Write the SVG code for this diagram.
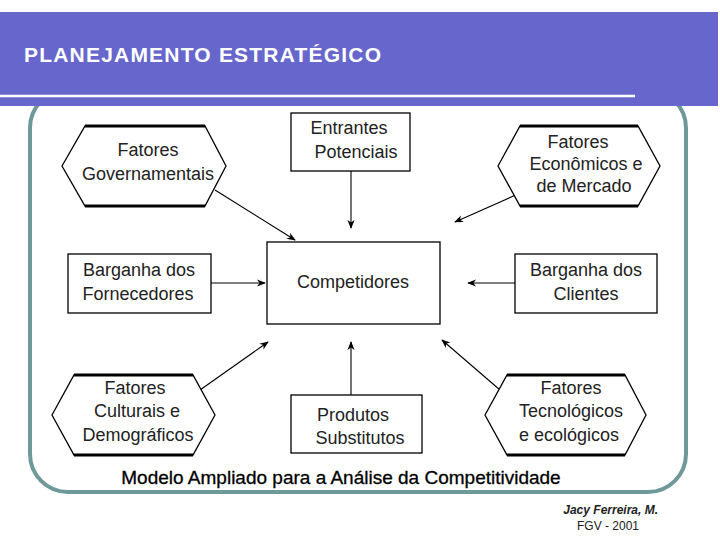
<svg xmlns="http://www.w3.org/2000/svg" width="720" height="540" viewBox="0 0 720 540">
<defs>
<marker id="ah" viewBox="0 0 10 10" refX="9" refY="5" markerWidth="9" markerHeight="9" orient="auto" markerUnits="userSpaceOnUse"><path d="M0,1 L10,5 L0,9 L3,5 z" fill="#000"/></marker>
</defs>
<style>
.t{font-family:"Liberation Sans",Arial,sans-serif;font-size:18px;fill:#222;text-anchor:middle}
.n{fill:#fff;stroke:#000;stroke-width:1.3}
.c line{stroke:#000;stroke-width:1.1;marker-end:url(#ah)}
</style>
<rect width="720" height="540" fill="#fff"/>
<rect x="30" y="90" width="656" height="402" rx="38" fill="none" stroke="#6f9898" stroke-width="4"/>
<rect x="0" y="12" width="718" height="94" fill="#6666cc"/>
<line x1="0" y1="96" x2="635" y2="96" stroke="#fff" stroke-width="2.5"/>
<text x="24" y="62" font-family="Liberation Sans,Arial,sans-serif" font-size="21" font-weight="bold" letter-spacing="1.2" fill="#fff">PLANEJAMENTO ESTRATÉGICO</text>
<g class="c">
<line x1="215" y1="190" x2="295" y2="240"/>
<line x1="351" y1="171" x2="351" y2="228"/>
<line x1="527" y1="190" x2="455" y2="222"/>
<line x1="211" y1="283" x2="265" y2="283"/>
<line x1="515" y1="283" x2="468" y2="283"/>
<line x1="200" y1="390" x2="268" y2="342"/>
<line x1="351" y1="395" x2="351" y2="342"/>
<line x1="500" y1="390" x2="442" y2="340"/>
</g>
<g id="gov"><polygon class="n" points="62,166 85,126 205,126 226,166 205,206 85,206"/><line x1="85" y1="126" x2="205" y2="126" stroke="#000" stroke-width="3"/><line x1="85" y1="206" x2="205" y2="206" stroke="#000" stroke-width="3"/><text class="t" x="148" y="156">Fatores</text><text class="t" x="148" y="180">Governamentais</text></g>
<g id="entrantes"><rect class="n" x="291" y="113" width="119" height="58"/><text class="t" x="349" y="134">Entrantes</text><text class="t" x="356" y="158">Potenciais</text></g>
<g id="econ"><polygon class="n" points="498,166 520,126 638,126 660,166 638,206 520,206"/><line x1="520" y1="126" x2="638" y2="126" stroke="#000" stroke-width="3"/><line x1="520" y1="206" x2="638" y2="206" stroke="#000" stroke-width="3"/><text class="t" x="578" y="148">Fatores</text><text class="t" x="586" y="170">Econômicos e</text><text class="t" x="584" y="192">de Mercado</text></g>
<g id="fornec"><rect class="n" x="68" y="254" width="143" height="59"/><text class="t" x="139" y="276">Barganha dos</text><text class="t" x="138" y="300">Fornecedores</text></g>
<g id="compet"><rect class="n" x="267" y="242" width="173" height="82"/><text class="t" x="353" y="288">Competidores</text></g>
<g id="clientes"><rect class="n" x="515" y="254" width="142" height="59"/><text class="t" x="586" y="276">Barganha dos</text><text class="t" x="586" y="300">Clientes</text></g>
<g id="cult"><polygon class="n" points="52,415 74,375 193,375 215,415 193,455 74,455"/><line x1="74" y1="375" x2="193" y2="375" stroke="#000" stroke-width="3"/><line x1="74" y1="455" x2="193" y2="455" stroke="#000" stroke-width="3"/><text class="t" x="135" y="394">Fatores</text><text class="t" x="137" y="417">Culturais e</text><text class="t" x="138" y="441">Demográficos</text></g>
<g id="prod"><rect class="n" x="291" y="395" width="131" height="58"/><text class="t" x="353" y="421">Produtos</text><text class="t" x="360" y="444">Substitutos</text></g>
<g id="tec"><polygon class="n" points="485,415 507,375 625,375 646,415 625,455 507,455"/><line x1="507" y1="375" x2="625" y2="375" stroke="#000" stroke-width="3"/><line x1="507" y1="455" x2="625" y2="455" stroke="#000" stroke-width="3"/><text class="t" x="571" y="394">Fatores</text><text class="t" x="571" y="417">Tecnológicos</text><text class="t" x="569" y="441">e ecológicos</text></g>
<text x="341" y="484" font-family="Liberation Sans,Arial,sans-serif" font-size="19" stroke="#000" stroke-width="0.3" fill="#000" text-anchor="middle">Modelo Ampliado para a Análise da Competitividade</text>
<text x="658" y="514" font-family="Liberation Sans,Arial,sans-serif" font-size="12" font-weight="bold" font-style="italic" fill="#222" text-anchor="end">Jacy Ferreira, M.</text>
<text x="608" y="530" font-family="Liberation Sans,Arial,sans-serif" font-size="12" fill="#222" text-anchor="middle">FGV - 2001</text>
</svg>
